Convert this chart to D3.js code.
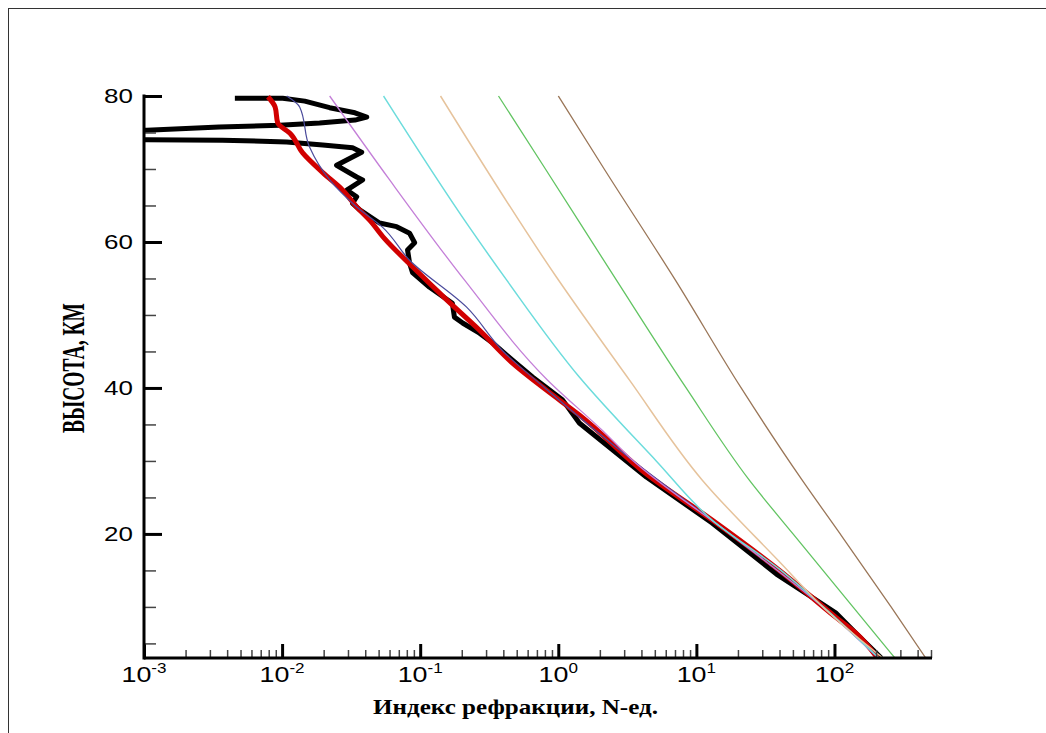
<!DOCTYPE html>
<html><head><meta charset="utf-8">
<script src="https://cdn.jsdelivr.net/npm/d3@7"></script>
<style>body{margin:0;background:#fff}</style>
</head><body>
<svg id="c" width="1046" height="733"></svg>
<script>
// ---- data (height km, refraction index N-units) ----
const xTickVals = [1e-3, 1e-2, 1e-1, 1, 10, 100];
const xTickExp = ["-3", "-2", "-1", "0", "1", "2"];
const yTickVals = [20, 40, 60, 80];
const yMinorVals = [5, 10, 15, 25, 30, 35, 45, 50, 55, 65, 70, 75];

const blackH = [79.7, 79.7, 79.3, 78.4, 77.7, 77.1, 76.7, 76.3, 76.0, 75.75, 75.3, 75.1, 74.2, 74.0, 73.95, 73.7, 73.3, 72.9, 72.3, 70.5, 68.9, 68.5, 67.1, 66.2, 65.3, 64.4, 62.6, 62.1, 61.2, 59.9, 58.9, 57.1, 55.8, 53.8, 51.6, 49.7, 48.9, 47.5, 46.2, 43.8, 41.5, 38.4, 35.2, 27.8, 21.5, 14.5, 9.2, 6.4, 3.0];
const blackN = [0.00455, 0.0101, 0.0146, 0.0221, 0.0337, 0.041, 0.0337, 0.0187, 0.0096, 0.0035, 0.00105, 0.0003, 0.0003, 0.00105, 0.0037, 0.0108, 0.0197, 0.0324, 0.0377, 0.0248, 0.0347, 0.0383, 0.0294, 0.0347, 0.0324, 0.0365, 0.0508, 0.0675, 0.0838, 0.0912, 0.081, 0.0838, 0.088, 0.117, 0.171, 0.177, 0.203, 0.269, 0.333, 0.466, 0.65, 1.07, 1.42, 4.34, 13.0, 38, 102, 143, 218];

const redH = [79.9, 78.5, 76.3, 74.9, 72.2, 69.5, 67.1, 64.8, 63.0, 60.5, 56.6, 52.1, 47.9, 43.4, 39.7, 36.3, 28.0, 21.9, 15.0, 8.6, 6.4, 3.0];
const redN = [0.0079, 0.0089, 0.0093, 0.0114, 0.0141, 0.0197, 0.0275, 0.0347, 0.043, 0.055, 0.088, 0.155, 0.269, 0.466, 0.82, 1.42, 4.5, 13.0, 40, 102, 143, 205];

const navyH = [80, 78.5, 73, 68.5, 64.8, 62, 57.5, 51.1, 45, 40, 30, 20, 10, 3];
const navyN = [0.0108, 0.0134, 0.0158, 0.0221, 0.0347, 0.0535, 0.0838, 0.216, 0.40, 0.80, 3.5, 17.5, 82, 207];

const magentaH = [80, 68.5, 54.8, 41.1, 34.2, 30, 20, 10, 3];
const magentaN = [0.0221, 0.0601, 0.209, 0.834, 2.08, 3.5, 17.5, 82, 208];

const cyanH = [80, 62, 54.8, 41.5, 30, 21.9, 15, 10, 3];
const cyanN = [0.0543, 0.2275, 0.422, 1.42, 5.12, 13.0, 41, 83, 210];

const tanH = [80, 55.2, 41.1, 27.4, 16.4, 9.2, 3];
const tanN = [0.1403, 0.969, 3.27, 11.0, 39.0, 91.2, 224];

const greenH = [80, 70, 54.8, 40, 27.4, 20, 10, 3];
const greenN = [0.369, 0.807, 2.63, 8.43, 24.1, 50.1, 136, 274];

const brownH = [80, 70, 54.8, 40, 27.4, 20, 10, 3];
const brownN = [1.0, 2.15, 7.03, 21.1, 58.2, 110, 257, 458];

const xTitle = "Индекс рефракции, N-ед.";
const yTitle = "ВЫСОТА, КМ";

// ---- drawing ----
const svg = d3.select("#c");
const x = d3.scaleLog().domain([1e-3, 500]).range([144, 931]);
const y = d3.scaleLinear().domain([3, 80]).range([658, 96]);

svg.append("rect").attr("x", 8.5).attr("y", 8.5).attr("width", 1100).attr("height", 800)
  .attr("fill", "none").attr("stroke", "#333").attr("stroke-width", 1);

svg.append("clipPath").attr("id", "clip").append("rect")
  .attr("x", 144).attr("y", 85).attr("width", 800).attr("height", 573);

const zip = (h, n) => h.map((v, i) => [v, n[i]]);
const line = d3.line().x(d => x(d[1])).y(d => y(d[0]));
const plot = svg.append("g").attr("clip-path", "url(#clip)");

const series = [
  {h: blackH, n: blackN, c: "#000000", w: 5, curve: d3.curveLinear},
  {h: redH, n: redN, c: "#d10000", w: 5, curve: d3.curveMonotoneY},
  {h: navyH, n: navyN, c: "#4b4b9c", w: 1.2, curve: d3.curveMonotoneY},
  {h: magentaH, n: magentaN, c: "#c47fd8", w: 1.3, curve: d3.curveMonotoneY},
  {h: cyanH, n: cyanN, c: "#6cdcdc", w: 1.5, curve: d3.curveMonotoneY},
  {h: tanH, n: tanN, c: "#e6c39c", w: 1.5, curve: d3.curveMonotoneY},
  {h: greenH, n: greenN, c: "#62c462", w: 1.3, curve: d3.curveMonotoneY},
  {h: brownH, n: brownN, c: "#9a7658", w: 1.3, curve: d3.curveMonotoneY}
];
series.forEach(s => {
  plot.append("path").datum(zip(s.h, s.n))
    .attr("d", line.curve(s.curve))
    .attr("fill", "none").attr("stroke", s.c).attr("stroke-width", s.w)
    .attr("stroke-linejoin", "round").attr("stroke-linecap", "butt");
});

// minor x ticks
const minorX = [];
for (let e = -3; e <= 2; e++) for (let k = 2; k <= 9; k++) { const v = k * Math.pow(10, e); if (v <= 500.0001) minorX.push(v); }

const gx = svg.append("g").attr("transform", "translate(0,658)");
gx.append("g").call(d3.axisBottom(x).tickValues(minorX).tickSize(-8).tickFormat(""))
  .call(g => g.select(".domain").remove())
  .call(g => g.selectAll("line").attr("stroke", "#444").attr("stroke-width", 1.5));
gx.append("g").call(d3.axisBottom(x).tickValues(xTickVals).tickSize(-14).tickFormat(""))
  .call(g => g.select(".domain").remove())
  .call(g => g.selectAll("line").attr("stroke", "#000").attr("stroke-width", 3));
svg.append("line").attr("x1", 144).attr("x2", 932).attr("y1", 658).attr("y2", 658)
  .attr("stroke", "#000").attr("stroke-width", 3);

const gy = svg.append("g").attr("transform", "translate(144,0)");
gy.append("g").call(d3.axisLeft(y).tickValues(yMinorVals).tickSize(-12).tickFormat(""))
  .call(g => g.select(".domain").remove())
  .call(g => g.selectAll("line").attr("stroke", "#444").attr("stroke-width", 1.5));
gy.append("g").call(d3.axisLeft(y).tickValues(yTickVals).tickSize(-18).tickFormat(""))
  .call(g => g.select(".domain").remove())
  .call(g => g.selectAll("line").attr("stroke", "#000").attr("stroke-width", 3));
svg.append("line").attr("x1", 144).attr("x2", 144).attr("y1", 94.5).attr("y2", 659.5)
  .attr("stroke", "#000").attr("stroke-width", 3);

// tick labels
const fam = "'Liberation Sans', Arial, sans-serif";
xTickVals.forEach((v, i) => {
  const t = svg.append("text")
    .attr("transform", `translate(${x(v)},682) scale(1.22,1)`)
    .attr("text-anchor", "middle").attr("font-family", fam).attr("font-size", 22).attr("fill", "#000");
  t.append("tspan").text("10");
  t.append("tspan").attr("font-size", 14).attr("dy", -9).text(xTickExp[i]);
});
yTickVals.forEach(v => {
  svg.append("text")
    .attr("transform", `translate(133,${y(v) + 7}) scale(1.3,1)`)
    .attr("text-anchor", "end").attr("font-family", fam).attr("font-size", 20).attr("fill", "#000")
    .text(v);
});

// axis titles
const serif = "'Liberation Serif', 'Times New Roman', serif";
const xt = svg.append("text").attr("font-family", serif).attr("font-weight", "bold")
  .attr("font-size", 21).attr("text-anchor", "middle").text(xTitle);
const xw = xt.node().getComputedTextLength();
xt.attr("transform", `translate(515.5,714) scale(${285 / xw},1)`);

const yt = svg.append("text").attr("font-family", serif).attr("font-weight", "bold")
  .attr("font-size", 20).attr("text-anchor", "middle").text(yTitle);
const yw = yt.node().getComputedTextLength();
const yfs = 20 * 130 / yw;
yt.attr("font-size", yfs);
yt.attr("transform", `translate(84,368) scale(${20.6 / (0.662 * yfs)},1) rotate(-90)`);
</script>
</body></html>
